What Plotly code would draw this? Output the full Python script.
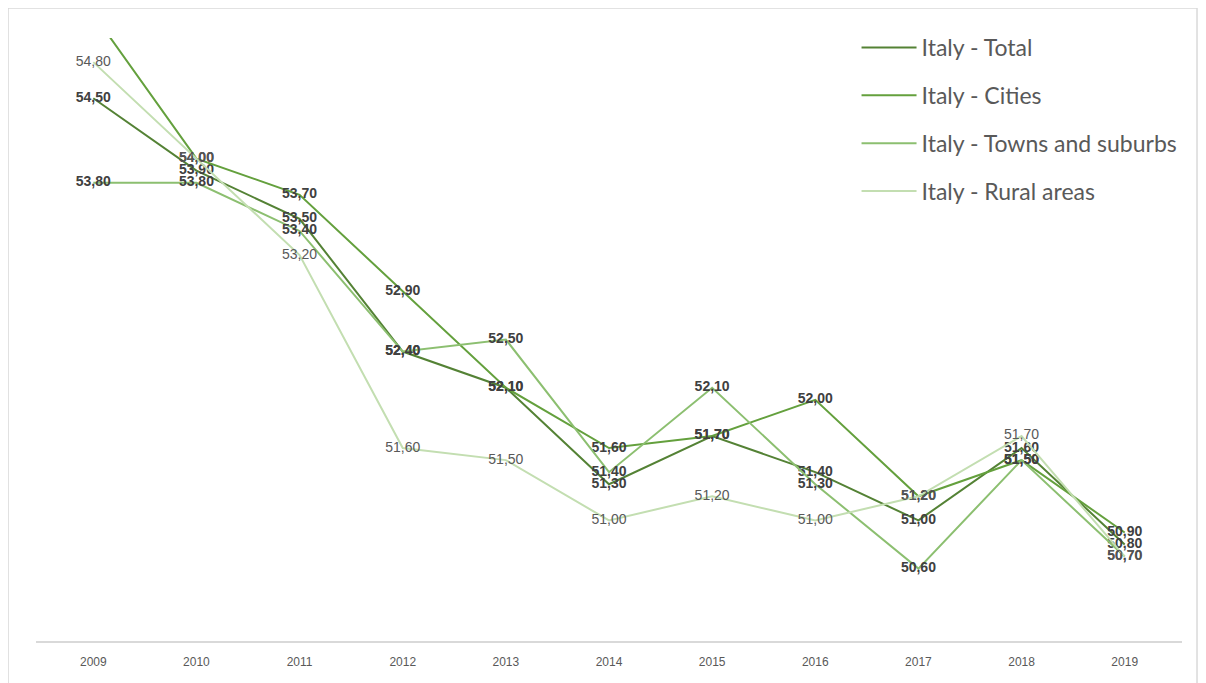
import plotly.graph_objects as go

years = ["2009", "2010", "2011", "2012", "2013", "2014", "2015", "2016", "2017", "2018", "2019"]
total = [54.5, 53.9, 53.5, 52.4, 52.1, 51.3, 51.7, 51.4, 51.0, 51.6, 50.8]
cities = [55.2, 54.0, 53.7, 52.9, 52.1, 51.6, 51.7, 52.0, 51.2, 51.5, 50.9]
towns = [53.8, 53.8, 53.4, 52.4, 52.5, 51.4, 52.1, 51.3, 50.6, 51.5, 50.7]
rural = [54.8, 54.0, 53.2, 51.6, 51.5, 51.0, 51.2, 51.0, 51.2, 51.7, 50.7]

y_range = [50, 55]

series = [
    ("Italy - Total", total, "#548235", True),
    ("Italy - Cities", cities, "#64A03D", True),
    ("Italy - Towns and suburbs", towns, "#8CBF70", True),
    ("Italy - Rural areas", rural, "#C3DEB1", False),
]

fig = go.Figure()
for i, (name, vals, color, bold) in enumerate(series):
    # labels of points lying outside the visible range are not drawn (as in the original)
    templates = ["%{y:.2f}" if y_range[0] <= v <= y_range[1] else "" for v in vals]
    fig.add_trace(go.Scatter(
        x=years, y=vals, name=name, mode="lines+text",
        line=dict(color=color, width=2),
        texttemplate=templates, textposition="middle center",
        textfont=dict(family="Liberation Sans, Arial, sans-serif", size=14,
                      color="#404040" if bold else "#595959",
                      weight="bold" if bold else "normal"),
        cliponaxis=True, legendgroup=f"g{i}",
    ))

fig.update_layout(
    width=1198, height=675,
    margin=dict(l=28, r=24, t=30, b=42),
    paper_bgcolor="white", plot_bgcolor="white",
    separators=",.",
    showlegend=True,
    legend=dict(x=0.716, y=1.02, xanchor="left", yanchor="top",
                font=dict(family="Lato, Open Sans, sans-serif", size=23, color="#595959"),
                itemwidth=55, tracegroupgap=15, bgcolor="rgba(0,0,0,0)"),
    xaxis=dict(type="category", showline=True, linecolor="#D9D9D9", linewidth=1.5,
               showgrid=False, ticks="", zeroline=False, ticklabelstandoff=9,
               tickfont=dict(family="Liberation Sans, Arial, sans-serif", size=12, color="#595959")),
    yaxis=dict(range=y_range, visible=False, showgrid=False, zeroline=False),
    shapes=[dict(type="rect", xref="paper", yref="paper",
                 x0=-0.0244, x1=1.0131, y0=-0.2, y1=1.0498,
                 line=dict(color="#D9D9D9", width=1.5), fillcolor="rgba(0,0,0,0)", layer="below")],
)

fig.write_html("out.html")
